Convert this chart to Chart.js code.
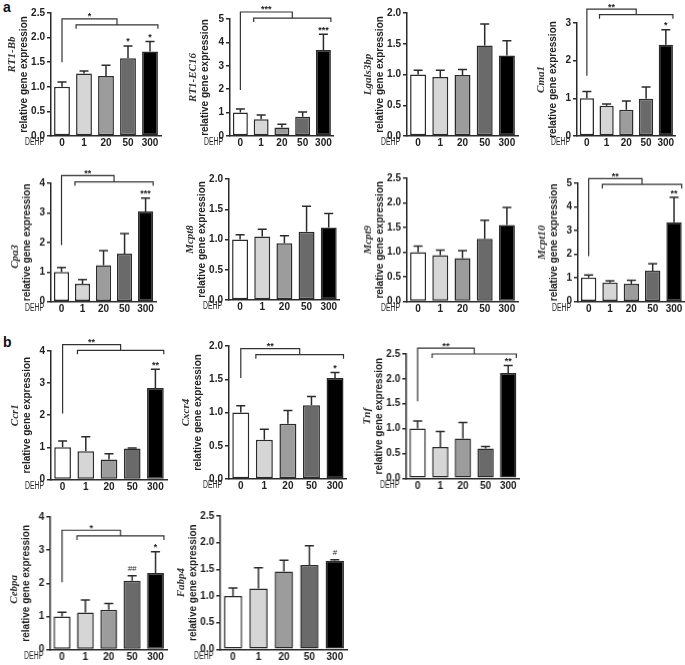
<!DOCTYPE html>
<html>
<head>
<meta charset="utf-8">
<script src="https://cdn.jsdelivr.net/npm/chart.js@4.4.1/dist/chart.umd.min.js"></script>
<style>
    html, body { margin: 0; padding: 0; background: #fff; }
    #wrap { position: relative; width: 685px; height: 665px; overflow: hidden; }
    .panel { position: absolute; }
    .tag { position: absolute; font: bold 14px "Liberation Sans", Arial, sans-serif; line-height: 14px; color: #111; }
</style>
</head>
<body>
<div id="wrap">
    <div class="tag" style="left:3px;top:0px">a</div>
    <div class="tag" style="left:3px;top:335px">b</div>
</div>
<script>
/* ── Data ───────────────────────────────────────────────────────────── */
const DOSES = ['0', '1', '20', '50', '300'];

const RT1_BB        = [1.00, 1.27, 1.22, 1.58, 1.72];
const RT1_BB_SD     = [0.10, 0.05, 0.22, 0.25, 0.20];
const RT1_BB_SIG    = ['', '', '', '*', '*'];
const RT1_BB_BRK    = ['*', 1.50, 2.38, 2.26];      // label, start, top, lower

const RT1_EC16      = [1.00, 0.72, 0.36, 0.82, 3.67];
const RT1_EC16_SD   = [0.15, 0.18, 0.14, 0.21, 0.68];
const RT1_EC16_SIG  = ['', '', '', '', '***'];
const RT1_EC16_BRK  = ['***', 1.97, 5.30, 5.04];

const LGALS3BP      = [1.00, 0.96, 0.99, 1.47, 1.31];
const LGALS3BP_SD   = [0.07, 0.11, 0.09, 0.35, 0.24];

const CMA1          = [1.00, 0.80, 0.70, 0.99, 2.42];
const CMA1_SD       = [0.18, 0.05, 0.23, 0.31, 0.40];
const CMA1_SIG      = ['', '', '', '', '*'];
const CMA1_BRK      = ['**', 1.60, 3.37, 3.22];

const CPA3          = [1.00, 0.60, 1.23, 1.62, 3.05];
const CPA3_SD       = [0.15, 0.15, 0.49, 0.68, 0.45];
const CPA3_SIG      = ['', '', '', '', '***'];
const CPA3_BRK      = ['**', 1.91, 4.26, 4.05];

const MCPT8         = [1.00, 1.05, 0.94, 1.13, 1.20];
const MCPT8_SD      = [0.08, 0.12, 0.12, 0.42, 0.23];

const MCPT9         = [1.00, 0.94, 0.88, 1.27, 1.55];
const MCPT9_SD      = [0.12, 0.10, 0.15, 0.38, 0.36];

const MCPT10        = [1.02, 0.80, 0.75, 1.30, 3.35];
const MCPT10_SD     = [0.10, 0.08, 0.15, 0.30, 1.05];
const MCPT10_SIG    = ['', '', '', '', '**'];
const MCPT10_BRK    = ['**', 1.92, 5.20, 4.95];

const CCR1          = [1.00, 0.88, 0.62, 0.96, 2.85];
const CCR1_SD       = [0.20, 0.45, 0.18, 0.02, 0.58];
const CCR1_SIG      = ['', '', '', '', '**'];
const CCR1_BRK      = ['**', 2.05, 4.20, 4.02];

const CXCR4         = [1.00, 0.59, 0.83, 1.11, 1.52];
const CXCR4_SD      = [0.10, 0.16, 0.20, 0.13, 0.08];
const CXCR4_SIG     = ['', '', '', '', '*'];
const CXCR4_BRK     = ['**', 1.52, 1.96, 1.87];

const TNF           = [1.00, 0.63, 0.80, 0.60, 2.12];
const TNF_SD        = [0.15, 0.31, 0.32, 0.04, 0.15];
const TNF_SIG       = ['', '', '', '', '**'];
const TNF_BRK       = ['**', 1.55, 2.62, 2.50];

const CEBPA         = [1.00, 1.12, 1.20, 2.08, 2.31];
const CEBPA_SD      = [0.13, 0.38, 0.19, 0.15, 0.64];
const CEBPA_SIG     = ['', '', '', '##', '*'];
const CEBPA_BRK     = ['*', 2.03, 3.60, 3.43];

const FABP4         = [1.00, 1.14, 1.46, 1.58, 1.66];
const FABP4_SD      = [0.15, 0.39, 0.21, 0.36, 0.02];
const FABP4_SIG     = ['', '', '', '', '#'];

/* ── Styling ────────────────────────────────────────────────────────── */
const FILLS = ['#ffffff', '#d6d6d6', '#9c9c9c', '#6a6a6a', '#000000'];
const EDGE  = '#2b2b2b';
const TXT   = '#222222';
const SANS  = '"Liberation Sans", Arial, sans-serif';
const SERIF = '"Liberation Serif", "Times New Roman", serif';

// box = [y-axis x, x-axis right end, top tick y, zero y] in page pixels
const PANELS = [
    { gene: 'RT1-Bb',   mean: RT1_BB,   sd: RT1_BB_SD,   sig: RT1_BB_SIG,   brk: RT1_BB_BRK,   max: 2.5, step: 0.5, dec: 1, box: [51, 161, 13, 136],      toff: 27, gs: 20 },
    { gene: 'RT1-EC16', mean: RT1_EC16, sd: RT1_EC16_SD, sig: RT1_EC16_SIG, brk: RT1_EC16_BRK, max: 5,   step: 1,   dec: 0, box: [229.6, 333.4, 19, 136], toff: 25, gs: 0 },
    { gene: 'Lgals3bp', mean: LGALS3BP, sd: LGALS3BP_SD, sig: null,         brk: null,         max: 2,   step: 0.5, dec: 1, box: [407, 518, 13, 136],     toff: 27, gs: 0 },
    { gene: 'Cma1',     mean: CMA1,     sd: CMA1_SD,     sig: CMA1_SIG,     brk: CMA1_BRK,     max: 3,   step: 1,   dec: 0, box: [576.8, 675.5, 23, 136], toff: 24, gs: 0 },
    { gene: 'Cpa3',     mean: CPA3,     sd: CPA3_SD,     sig: CPA3_SIG,     brk: CPA3_BRK,     max: 4,   step: 1,   dec: 0, box: [51.2, 156.3, 183, 300.7], toff: 24, gs: -14 },
    { gene: 'Mcpt8',    mean: MCPT8,    sd: MCPT8_SD,    sig: null,         brk: null,         max: 2,   step: 0.5, dec: 1, box: [228.6, 339.4, 179, 300], toff: 27, gs: 0 },
    { gene: 'Mcpt9',    mean: MCPT9,    sd: MCPT9_SD,    sig: null,         brk: null,         max: 2.5, step: 0.5, dec: 1, box: [407, 518, 178, 300.5],  toff: 27, gs: 0 },
    { gene: 'Mcpt10',   mean: MCPT10,   sd: MCPT10_SD,   sig: MCPT10_SIG,   brk: MCPT10_BRK,   max: 5,   step: 1,   dec: 0, box: [577.8, 684.5, 183, 300.7], toff: 24, gs: 0 },
    { gene: 'Ccr1',     mean: CCR1,     sd: CCR1_SD,     sig: CCR1_SIG,     brk: CCR1_BRK,     max: 4,   step: 1,   dec: 0, box: [50.6, 166.6, 350.6, 479], toff: 24, gs: 0 },
    { gene: 'Cxcr4',    mean: CXCR4,    sd: CXCR4_SD,    sig: CXCR4_SIG,    brk: CXCR4_BRK,    max: 2,   step: 0.5, dec: 1, box: [228.5, 346.3, 346, 479], toff: 31, gs: 0 },
    { gene: 'Tnf',      mean: TNF,      sd: TNF_SD,      sig: TNF_SIG,      brk: TNF_BRK,      max: 2.5, step: 0.5, dec: 1, box: [406, 518.5, 354, 478.3], toff: 27, gs: 0 },
    { gene: 'Cebpa',    mean: CEBPA,    sd: CEBPA_SD,    sig: CEBPA_SIG,    brk: CEBPA_BRK,    max: 4,   step: 1,   dec: 0, box: [50.4, 166.6, 516.7, 649.3], toff: 24, gs: -6 },
    { gene: 'Fabp4',    mean: FABP4,    sd: FABP4_SD,    sig: FABP4_SIG,    brk: null,         max: 2.5, step: 0.5, dec: 1, box: [220.2, 346.7, 516, 649.3], toff: 27, gs: 0 },
];

/* ── Extra drawing: error bars, stars, brackets, axis titles ───────── */
function extrasPlugin(p) {
    return {
        id: 'extras',
        afterDatasetsDraw(chart) {
            const { ctx } = chart;
            const ys   = chart.scales.y;
            const bars = chart.getDatasetMeta(0).data;
            ctx.save();
            ctx.strokeStyle = EDGE;
            ctx.lineWidth = 1.5;
            bars.forEach((bar, i) => {
                const top = ys.getPixelForValue(p.mean[i] + p.sd[i]);
                ctx.beginPath();
                ctx.moveTo(bar.x, bar.y);
                ctx.lineTo(bar.x, top);
                ctx.moveTo(bar.x - 4.5, top);
                ctx.lineTo(bar.x + 4.5, top);
                ctx.stroke();
            });
            ctx.restore();
        },
        afterDraw(chart) {
            const { ctx, chartArea: ca } = chart;
            const ys   = chart.scales.y;
            const bars = chart.getDatasetMeta(0).data;
            ctx.save();
            ctx.fillStyle = TXT;
            ctx.textAlign = 'center';
            ctx.textBaseline = 'alphabetic';

            // significance marks over single bars
            if (p.sig) {
                p.sig.forEach((s, i) => {
                    if (!s) return;
                    const top = ys.getPixelForValue(p.mean[i] + p.sd[i]);
                    const hash = s.indexOf('#') >= 0;
                    ctx.font = (hash ? '8px ' : 'bold 9px ') + SANS;
                    ctx.fillText(s, bars[i].x, hash ? top - 5 : top - 1.5);
                });
            }

            // bracket: control vs all doses
            if (p.brk) {
                const [lab, v0, vTop, vMid] = p.brk;
                const half = bars[1].width / 2;
                const xL = bars[0].x;
                const a  = bars[1].x - half;
                const b  = bars[4].x + half;
                const xm = (a + b) / 2;
                const y0 = ys.getPixelForValue(v0);
                const yT = ys.getPixelForValue(vTop);
                const yM = ys.getPixelForValue(vMid);
                ctx.strokeStyle = '#333';
                ctx.lineWidth = 1.2;
                ctx.beginPath();
                ctx.moveTo(xL, y0);
                ctx.lineTo(xL, yT);
                ctx.lineTo(xm, yT);
                ctx.lineTo(xm, yM);
                ctx.moveTo(a, yM + 4);
                ctx.lineTo(a, yM);
                ctx.lineTo(b, yM);
                ctx.lineTo(b, yM + 4);
                ctx.stroke();
                ctx.font = 'bold 9px ' + SANS;
                ctx.fillText(lab, (xL + xm) / 2, yT + 0.5);
            }

            // rotated y titles
            const cy = (ca.top + ca.bottom) / 2;
            ctx.save();
            ctx.translate(ca.left - p.toff, cy);
            ctx.rotate(-Math.PI / 2);
            ctx.textBaseline = 'middle';
            ctx.font = 'bold 10px ' + SANS;
            ctx.fillText('relative gene expression', 0, 0);
            ctx.fillStyle = '#333';
            ctx.font = 'italic bold 11px ' + SERIF;
            ctx.fillText(p.gene, p.gs, -12);
            ctx.restore();

            // "DEHP" under the y axis, narrow
            ctx.font = '10px ' + SANS;
            const w = ctx.measureText('DEHP').width;
            ctx.translate(ca.left - 7, ca.bottom + 6.5);
            ctx.scale(19 / w, 1);
            ctx.textAlign = 'right';
            ctx.textBaseline = 'middle';
            ctx.fillText('DEHP', 0, 0);
            ctx.restore();
        },
    };
}

/* ── Build one panel ────────────────────────────────────────────────── */
const wrap = document.getElementById('wrap');
const L = 54, T = 40, R = 6, B = 18;   // room round the plot area
const YW = 26, XH = 14;                // fixed axis sizes

function makePanel(p) {
    const [x0, x1, yT, yB] = p.box;
    const div = document.createElement('div');
    div.className = 'panel';
    div.style.left   = (x0 - L) + 'px';
    div.style.top    = (yT - T) + 'px';
    div.style.width  = (x1 - x0 + L + R) + 'px';
    div.style.height = (yB - yT + T + B) + 'px';
    const cv = document.createElement('canvas');
    div.appendChild(cv);
    wrap.appendChild(div);

    new Chart(cv, {
        type: 'bar',
        data: {
            labels: DOSES,
            datasets: [{
                data: p.mean,
                backgroundColor: FILLS,
                borderColor: EDGE,
                borderWidth: 1.5,
                borderSkipped: false,
                barPercentage: 0.72,
                categoryPercentage: 1,
            }],
        },
        options: {
            responsive: true,
            maintainAspectRatio: false,
            animation: false,
            layout: { padding: { left: L - YW, right: R, top: T, bottom: B - XH } },
            plugins: { legend: { display: false }, tooltip: { enabled: false } },
            scales: {
                x: {
                    offset: true,
                    grid: { display: true, drawOnChartArea: false, drawTicks: false, offset: false },
                    border: { display: true, color: EDGE, width: 1.5 },
                    ticks: { font: { family: SANS, size: 10, weight: 'bold' }, color: TXT, padding: 1.5, maxRotation: 0, autoSkip: false },
                    afterFit(s) { s.height = XH; },
                },
                y: {
                    min: 0, max: p.max,
                    grid: { display: true, drawOnChartArea: false, drawTicks: true, tickLength: 4, color: EDGE, lineWidth: 1.5 },
                    border: { display: true, color: EDGE, width: 1.5 },
                    ticks: {
                        stepSize: p.step,
                        padding: 2,
                        color: TXT,
                        font: { family: SANS, size: 10, weight: 'bold' },
                        callback: v => Number(v).toFixed(p.dec),
                    },
                    afterFit(s) { s.width = YW; },
                },
            },
        },
        plugins: [extrasPlugin(p)],
    });
}

PANELS.forEach(makePanel);
</script>
</body>
</html>
